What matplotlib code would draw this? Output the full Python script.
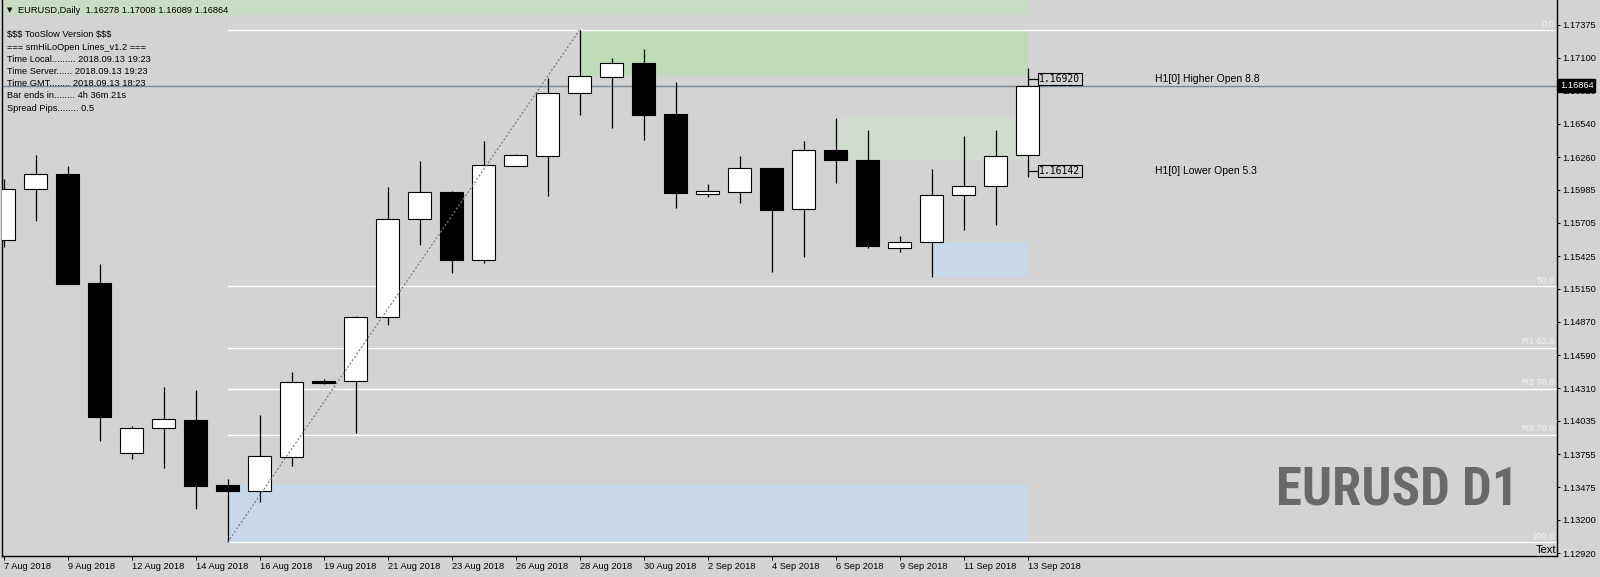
import numpy as np
import matplotlib
matplotlib.use('Agg')
import matplotlib.pyplot as plt
from matplotlib.patches import Rectangle

# daily bars (broker with sunday candles)
dates = ['7 Aug', '8 Aug', '9 Aug', '10 Aug', '12 Aug', '13 Aug', '14 Aug', '15 Aug',
         '16 Aug', '17 Aug', '19 Aug', '20 Aug', '21 Aug', '22 Aug', '23 Aug', '24 Aug',
         '26 Aug', '27 Aug', '28 Aug', '29 Aug', '30 Aug', '31 Aug', '2 Sep', '3 Sep',
         '4 Sep', '5 Sep', '6 Sep', '7 Sep', '9 Sep', '10 Sep', '11 Sep', '12 Sep', '13 Sep']
opens = [1.15561, 1.15991, 1.16118, 1.15198, 1.13764, 1.13975, 1.14042, 1.13494,
         1.13443, 1.13730, 1.14371, 1.14371, 1.14911, 1.15738, 1.15966, 1.15392,
         1.16185, 1.16270, 1.16801, 1.16936, 1.17054, 1.16622, 1.15949, 1.15966,
         1.16169, 1.15823, 1.16320, 1.16236, 1.15493, 1.15544, 1.15941, 1.16016, 1.16278]
highs = [1.16076, 1.16278, 1.16185, 1.15358, 1.13992, 1.14321, 1.14295, 1.13544,
         1.14084, 1.14447, 1.14388, 1.14920, 1.16008, 1.16228, 1.15974, 1.16396,
         1.16287, 1.16928, 1.17333, 1.17097, 1.17172, 1.16894, 1.16033, 1.16270,
         1.16169, 1.16396, 1.16590, 1.16489, 1.15595, 1.16160, 1.16438, 1.16489, 1.17008]
lows = [1.15502, 1.15721, 1.15190, 1.13865, 1.13713, 1.13637, 1.13291, 1.13010,
        1.13350, 1.13654, 1.14346, 1.13933, 1.14844, 1.15519, 1.15283, 1.15367,
        1.16185, 1.15932, 1.16616, 1.16508, 1.16405, 1.15833, 1.15926, 1.15873,
        1.15291, 1.15420, 1.16042, 1.15493, 1.15462, 1.15249, 1.15645, 1.15690, 1.16089]
closes = [1.15991, 1.16118, 1.15190, 1.14068, 1.13975, 1.14051, 1.13485, 1.13443,
          1.13739, 1.14363, 1.14355, 1.14911, 1.15738, 1.15966, 1.15392, 1.16194,
          1.16278, 1.16801, 1.16942, 1.17054, 1.16616, 1.15960, 1.15974, 1.16168,
          1.15814, 1.16320, 1.16236, 1.15510, 1.15544, 1.15941, 1.16016, 1.16270, 1.16864]

# zones (start bar, low, high), they all run to the last bar
zone_start = ['28 Aug', '6 Sep', '15 Aug', '10 Sep']
zone_lo = [1.16942, 1.16236, 1.13010, 1.15249]
zone_hi = [1.17333, 1.16590, 1.13494, 1.15544]
top_zone_lo = 1.17459

fib_levels = [0.0, 50.0, 62.0, 70.0, 79.0, 100.0]
fib_names = ['0.0', '50.0', 'R1 62.0', 'R2 70.0', 'R3 79.0', '100.0']

h1_prices = [1.16920, 1.16142]
h1_names = ['H1[0] Higher Open 8.8', 'H1[0] Lower Open 5.3']

yticks = [1.17375, 1.17100, 1.16820, 1.16540, 1.16260, 1.15985, 1.15705, 1.15425,
          1.15150, 1.14870, 1.14590, 1.14310, 1.14035, 1.13755, 1.13475, 1.13200, 1.12920]

info = ['$$$ TooSlow Version $$$',
        '=== smHiLoOpen Lines_v1.2 ===',
        'Time Local......... 2018.09.13 19:23',
        'Time Server...... 2018.09.13 19:23',
        'Time GMT........ 2018.09.13 18:23',
        'Bar ends in........ 4h 36m 21s',
        'Spread Pips........ 0.5']

W, H = 1600, 577
BG = '#d3d3d3'
FONT = ['Liberation Sans', 'DejaVu Sans']
FS = 6.7

fig = plt.figure(figsize=(16, 5.77), dpi=100, facecolor=BG)
ax = fig.add_axes([2 / W, 21 / H, 1555 / W, 556 / H])
ax.set_facecolor(BG)
ax.set_xlim((2 - 3.5) / 32, (1557 - 3.5) / 32)
ax.set_ylim(1.128947, 1.175859)

x = np.arange(len(dates))
last = len(dates) - 1

# zones
ax.add_patch(Rectangle((-5, top_zone_lo), last + 5, 0.01, fc='#c9dcc4', ec='none', zorder=0.5))
zone_cols = ['#bedbb7', '#d0dccd', '#c8d8ea', '#c8d8ea']
for s, lo, hi, c in zip(zone_start, zone_lo, zone_hi, zone_cols):
    i0 = dates.index(s)
    ax.add_patch(Rectangle((i0, lo), last - i0, hi - lo, fc=c, ec='none', zorder=0.6))

# fibo from the 15 Aug low to the 28 Aug high
i_lo, i_hi = dates.index('15 Aug'), dates.index('28 Aug')
f_lo, f_hi = lows[i_lo], highs[i_hi]
for lvl, name in zip(fib_levels, fib_names):
    p = f_hi - lvl / 100 * (f_hi - f_lo)
    ax.plot([i_lo, 60], [p, p], color='white', lw=1, zorder=1)
    ax.annotate(name, xy=(1, p), xycoords=('axes fraction', 'data'), xytext=(-1.5, 1),
                textcoords='offset points', ha='right', va='bottom', color='#f4f4f4',
                fontsize=FS, family=FONT, zorder=5)
ax.plot([i_lo, i_hi], [f_lo, f_hi], color='#708090', lw=0.9, ls=(0, (1.6, 1.6)), zorder=4)

# current price line
ax.axhline(closes[-1], color='#778899', lw=1, zorder=1.2)

# candles
bw = 0.74
for i in x:
    o, h, l, c = opens[i], highs[i], lows[i], closes[i]
    ax.plot([i, i], [l, h], color='black', lw=0.9, zorder=2, solid_capstyle='butt')
    fc = 'white' if c >= o else 'black'
    ax.add_patch(Rectangle((i - bw / 2, min(o, c)), bw, max(abs(c - o), 0.00002),
                           fc=fc, ec='black', lw=0.8, zorder=3))

# H1 open markers on the last bar
for p, name in zip(h1_prices, h1_names):
    ax.plot([last, last + 0.33], [p, p], color='black', lw=0.9, zorder=3)
    ax.text(last + 0.37, p, f'{p:.5f}', family='DejaVu Sans Mono', fontsize=7, va='center',
            ha='left', zorder=5,
            bbox=dict(boxstyle='square,pad=0.12', fc='none', ec='black', lw=0.8))
    ax.text(35.98, p, name, fontsize=7.5, family=FONT, va='center', ha='left', zorder=5)

# axes look
ax.spines['top'].set_visible(False)
for s in ['left', 'bottom', 'right']:
    ax.spines[s].set_linewidth(1)
ax.yaxis.tick_right()
ax.set_yticks(yticks)
ax.set_yticklabels([f'{t:.5f}' for t in yticks], fontsize=FS, family=FONT)
ax.tick_params(axis='y', length=2.2, width=0.8, pad=1.5)
ax.set_xticks(x[::2])
ax.set_xticklabels([d + ' 2018' for d in dates[::2]], fontsize=FS, family=FONT, ha='left')
ax.tick_params(axis='x', length=2.9, width=0.8, pad=1.2)

ax.annotate(f'{closes[-1]:.5f}', xy=(1, closes[-1]), xycoords=('axes fraction', 'data'),
            xytext=(2, 0), textcoords='offset points', ha='left', va='center',
            color='white', fontsize=FS, family=FONT, annotation_clip=False, zorder=6,
            bbox=dict(boxstyle='square,pad=0.2', fc='black', ec='black'))

# texts
def fy(px):
    return 1 - px / H

fig.text(7 / W, fy(10), '▼', fontsize=5, family=['DejaVu Sans'], va='center')
fig.text(18 / W, fy(10.5),
         f'EURUSD,Daily  {opens[-1]:.5f} {highs[-1]:.5f} {lows[-1]:.5f} {closes[-1]:.5f}',
         fontsize=FS, family=FONT, va='center')
for k, line in enumerate(info):
    fig.text(7 / W, fy(35 + 12.2 * k), line, fontsize=FS, family=FONT, va='center',
             parse_math=False)

fig.text(1397 / W, fy(506), 'EURUSD D1', fontsize=38, fontweight='bold', color='#696969',
         family=['Roboto Condensed', 'Roboto', 'DejaVu Sans'], ha='center', va='baseline')
fig.text(1556 / W, fy(553), 'Text', fontsize=8, family=FONT, ha='right', va='baseline')

fig.savefig('out.png', dpi=100, facecolor=BG)
